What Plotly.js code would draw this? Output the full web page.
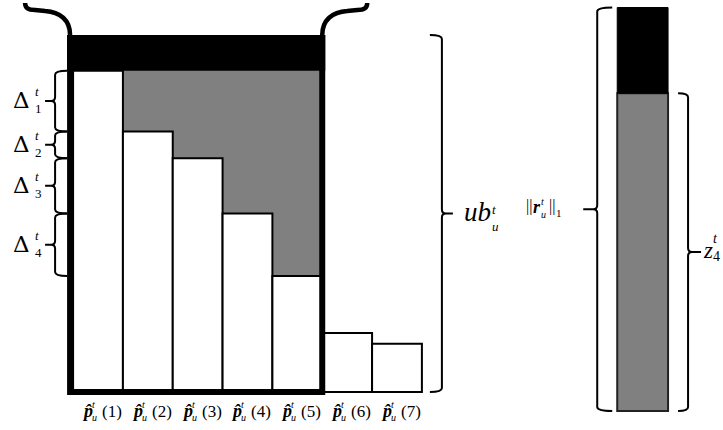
<!DOCTYPE html>
<html>
<head>
<meta charset="utf-8">
<script src="https://cdn.plot.ly/plotly-3.0.1.min.js"></script>
<style>html,body{margin:0;padding:0;background:#fff;}#chart{width:723px;height:430px;}</style>
</head>
<body>
<div id="chart"></div>
<script>
// ---- data (arbitrary units: ub = 100) ----
const barIndex   = [1, 2, 3, 4, 5, 6, 7];
const barHeights = [90, 73, 65.5, 50, 32.5, 16.5, 13.5];     // p̂_u^t(i)
const tickNums   = ['1', '2', '3', '4', '5', '6', '7'];
const ubValue    = 100;                                      // ub_u^t
const deltaNames = ['1', '2', '3', '4'];                     // Δ_i^t = p(i) - p(i+1)
const rBarX      = [11.93];
const rBarBase   = [-5.3];
const rNormValue = [113];                                    // ||r_u^t||_1
const zValue     = [89];                                     // z_4^t

// ---- scale / style constants ----
const W = 723, H = 430;
const xppu = 49.83, x0pix = 48.17;   // pixels per bar slot, pixel of x=0
const yppu = 3.57, basePix = 392;    // pixels per unit, pixel of y=0
const F = 'Liberation Serif, DejaVu Serif, serif';
const F2 = 'DejaVu Serif, Liberation Serif, serif';
const GREY = '#808080';
const dX = p => p / xppu;            // pixel offset -> data offset
const dY = p => p / yppu;

// ---- traces ----
const greyIdx = barIndex.slice(1, 5);
const greyTrace = {
  type: 'bar', x: greyIdx,
  base: barHeights.slice(1, 5),
  y: barHeights.slice(1, 5).map(h => barHeights[0] - h),
  width: 1, marker: {color: GREY, line: {color: GREY, width: 1.5}}, hoverinfo: 'skip'
};
const whiteTrace = {
  type: 'bar', x: barIndex, y: barHeights, width: 1,
  marker: {color: '#ffffff', line: {color: '#000', width: 2}}, hoverinfo: 'skip'
};
const rGrey = {
  type: 'bar', x: rBarX, base: rBarBase, y: zValue, width: 1.02,
  marker: {color: GREY, line: {color: '#222', width: 2}}, hoverinfo: 'skip'
};
const rBlack = {
  type: 'bar', x: rBarX, base: rBarBase.map((b, i) => b + zValue[i]),
  y: rNormValue.map((r, i) => r - zValue[i]), width: 1.02,
  marker: {color: '#000', line: {color: '#000', width: 1}}, hoverinfo: 'skip'
};

// ---- shapes ----
const shapes = [];
const lx = 0.5 - dX(3), rx = 5.5;
shapes.push({type: 'rect', xref: 'x', yref: 'y', x0: lx - dX(3), x1: rx + dX(3),
  y0: barHeights[0], y1: ubValue, fillcolor: '#000', line: {width: 0}});
shapes.push({type: 'path', xref: 'x', yref: 'y',
  path: `M ${lx},${ubValue} L ${lx},0 L ${rx},0 L ${rx},${ubValue}`,
  line: {color: '#000', width: 6}});
function rel(x0, y0, cmds) {
  return cmds.map(c => {
    const nums = [];
    for (let k = 0; k < c[1].length; k += 2) nums.push((x0 + dX(c[1][k])) + ',' + (y0 - dY(c[1][k + 1])));
    return c[0] + ' ' + nums.join(' ');
  }).join(' ');
}
shapes.push({type: 'path', xref: 'x', yref: 'y', line: {color: '#000', width: 4.5},
  path: rel(lx, ubValue, [['M', [-45, -32]], ['C', [-45, -27, -42, -25, -35, -25]], ['L', [-25, -24]], ['C', [-10, -23, 0, -15, 0, 0]]])});
shapes.push({type: 'path', xref: 'x', yref: 'y', line: {color: '#000', width: 4.5},
  path: rel(rx, ubValue, [['M', [0, 0]], ['C', [0, -15, 10, -23, 25, -24]], ['L', [35, -25]], ['C', [42, -25, 45, -27, 45, -32]]])});

function brace(xv, y0, y1, side, hook, tip, width) {
  const xh = xv - side * dX(hook), r = dY(4), c = dX(4), mid = (y0 + y1) / 2;
  const xt = xv + side * dX(tip), xc = xv + side * c;
  const p = `M ${xh},${y1} Q ${xv},${y1} ${xv},${y1 - r} L ${xv},${mid + r} Q ${xv},${mid} ${xc},${mid} L ${xt},${mid} ` +
            `M ${xh},${y0} Q ${xv},${y0} ${xv},${y0 + r} L ${xv},${mid - r} Q ${xv},${mid} ${xc},${mid} L ${xt},${mid}`;
  shapes.push({type: 'path', xref: 'x', yref: 'y', path: p, line: {color: '#000', width: width || 2}});
  return {x: xt, y: mid};
}

const annotations = [];
function txt(x, y, text, size, dx, dy, fam) {
  annotations.push({x, y, xref: 'x', yref: 'y', text, showarrow: false,
    xanchor: 'left', yanchor: 'middle', align: 'left', xshift: dx, yshift: dy, borderpad: 0,
    font: {family: fam || F, size, color: '#000'}});
}
const stack = (sup, sub) => sup + '<br>' + sub;

// Δ braces
const dBraceX = 0.5 - dX(18);
deltaNames.forEach((n, i) => {
  const t = brace(dBraceX, barHeights[i + 1], barHeights[i], -1, 12, 10, 2);
  txt(t.x, t.y, 'Δ', 23, -33, 1, F2);
  txt(t.x, t.y, stack('<i>t</i>', n), 13, -11, 1);
});

// ub brace
const ubT = brace(7.5 + dX(20), 0, ubValue, 1, 12, 11, 2);
txt(ubT.x, ubT.y, '<i>ub</i>', 27, 10, 2);
txt(ubT.x, ubT.y, stack('<i>t</i>', '<i>u</i>'), 13, 38, -4);

// ||r|| brace
const rL = rBarX[0] - 0.51;
const rT = brace(rL - dX(20), rBarBase[0], rBarBase[0] + rNormValue[0], -1, 15, 14, 2);
txt(rT.x, rT.y, '||', 16, -58, 3);
txt(rT.x, rT.y, '<b><i>r</i></b>', 18, -51, 2);
txt(rT.x, rT.y, stack('<i>t</i>', '<i>u</i>'), 10, -43, 1);
txt(rT.x, rT.y, '||', 16, -35, 3);
txt(rT.x, rT.y, '1', 11, -28, -4);

// z brace
const rR = rBarX[0] + 0.51;
const zT = brace(rR + dX(20), rBarBase[0], rBarBase[0] + zValue[0], 1, 10, 13, 2);
txt(zT.x, zT.y, '<i>z</i>', 23, 1, 2);
txt(zT.x, zT.y, stack('<i>t</i>', '4'), 14, 11, 5);

// tick labels
const tickY = (basePix - 411) / yppu;
barIndex.forEach((bx, i) => {
  txt(bx, tickY, '<b><i>p\u0302</i></b>', 18, -17, 0);
  txt(bx, tickY, stack('<i>t</i>', '<i>u</i>'), 10, -7, 0);
  txt(bx, tickY, '(' + tickNums[i] + ')', 17, 3, 0);
});

const layout = {
  width: W, height: H, margin: {l: 0, r: 0, t: 0, b: 0},
  paper_bgcolor: '#fff', plot_bgcolor: '#fff', showlegend: false, barmode: 'overlay',
  xaxis: {range: [-x0pix / xppu, (W - x0pix) / xppu], visible: false, fixedrange: true},
  yaxis: {range: [-(H - basePix) / yppu, basePix / yppu], visible: false, fixedrange: true},
  shapes, annotations
};
Plotly.newPlot('chart', [greyTrace, whiteTrace, rGrey, rBlack], layout, {staticPlot: true, displayModeBar: false});
</script>
</body>
</html>
